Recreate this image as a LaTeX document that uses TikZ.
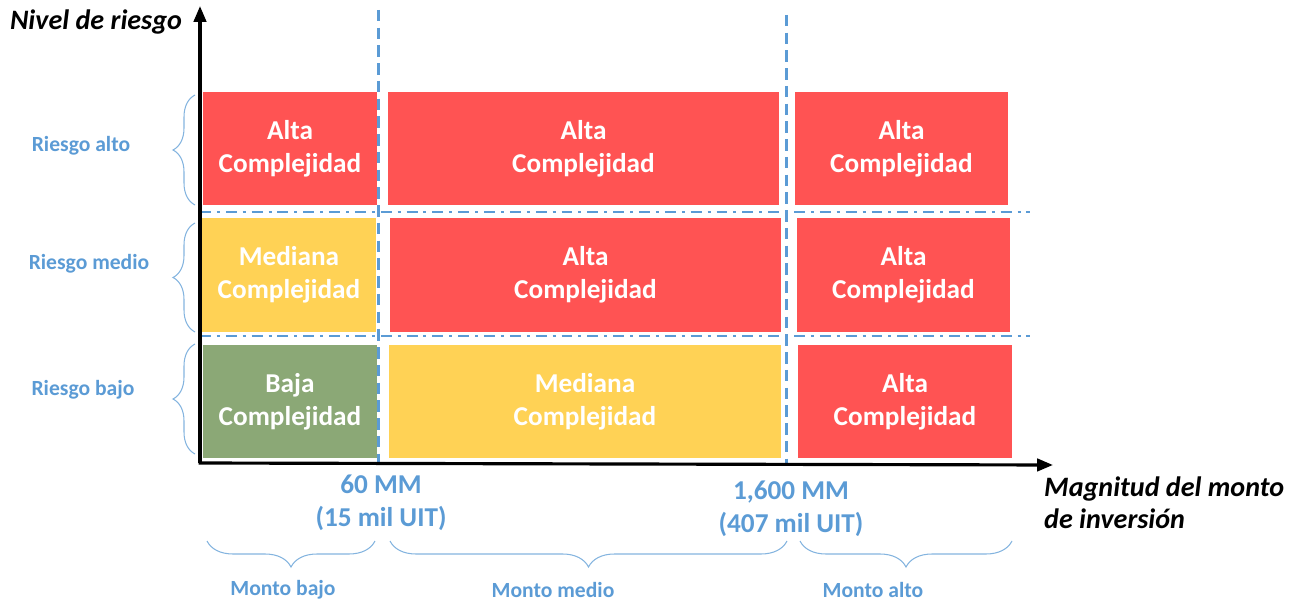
\documentclass[tikz,border=0pt]{standalone}
\usepackage{fontspec}
\setmainfont{Carlito}
\usetikzlibrary{arrows.meta}
\usetikzlibrary{decorations.pathreplacing}
\definecolor{rojo}{HTML}{FF5353}
\definecolor{amarillo}{HTML}{FFD255}
\definecolor{verde}{HTML}{8BA876}
\definecolor{azul}{HTML}{5B9BD5}

\begin{document}
\begin{tikzpicture}[x=0.02cm,y=-0.02cm,
  cell/.style={fill=#1, text=white, align=center, inner sep=0pt, minimum height=2.27cm, font=\fontsize{15.5}{18.7}\selectfont\bfseries},
  colA/.style={minimum width=3.48cm},
  colB/.style={minimum width=7.84cm},
  colC/.style={minimum width=4.28cm},
  tag/.style={text=azul, font=\fontsize{12.3}{14}\selectfont\bfseries},
  limite/.style={text=azul, align=center, font=\fontsize{15.5}{18.5}\selectfont\bfseries},
  titulo/.style={font=\fontsize{16}{18.2}\selectfont\bfseries\itshape},
  llave/.style={draw=azul!75, line width=0.6pt, decorate, decoration={brace, amplitude=#1}},
  corte/.style={draw=azul, line width=1.7pt, dash pattern=on 6.5pt off 3.6pt},
  franja/.style={draw=azul, line width=1.7pt, dash pattern=on 6.2pt off 3.4pt on 1.7pt off 3.4pt},
  eje/.style={draw=black, line width=1.8pt, -{Triangle[length=9pt,width=7pt]}}]

\useasboundingbox (0,0) rectangle (1300,604);

% riesgo alto
\node (altoA) [cell=rojo, colA] at (290,148.5) {Alta\\Complejidad};
\node (altoB) [cell=rojo, colB] at (583.5,148.5) {Alta\\Complejidad};
\node (altoC) [cell=rojo, colC] at (901.5,148.5) {Alta\\Complejidad};

% riesgo medio
\node (medioA) [cell=amarillo, colA] at (289,275) {Mediana\\Complejidad};
\node (medioB) [cell=rojo, colB] at (585.5,275) {Alta\\Complejidad};
\node (medioC) [cell=rojo, colC] at (903.5,275) {Alta\\Complejidad};

% riesgo bajo
\node (bajoA) [cell=verde, colA] at (290,401.5) {Baja\\Complejidad};
\node (bajoB) [cell=amarillo, colB] at (585,401.5) {Mediana\\Complejidad};
\node (bajoC) [cell=rojo, colC] at (905,401.5) {Alta\\Complejidad};

% cortes
\coordinate (c1top) at (378,10);
\coordinate (c1bot) at (378,463);
\coordinate (c2top) at (786,15);
\coordinate (c2bot) at (786,466);
\coordinate (f1izq) at (200,212);
\coordinate (f1der) at (1030,212);
\coordinate (f2izq) at (200,336);
\coordinate (f2der) at (1030,336);
\draw[corte] (c1top) -- (c1bot);
\draw[corte] (c2top) -- (c2bot);
\draw[franja] (f1izq) -- (f1der);
\draw[franja] (f2izq) -- (f2der);

% ejes
\coordinate (origen) at (200,463);
\coordinate (ytop) at (200,6);
\coordinate (xend) at (1053,465);
\draw[eje] (origen) -- (ytop);
\draw[eje] ([xshift=-0.8pt]origen) -- (xend);

\node (ytit) [titulo] at (96,22) {Nivel de riesgo};
\node (xtit) [titulo, anchor=west, align=left] at (1038,503) {Magnitud del monto\\de inversión};

% niveles
\coordinate (la1) at (195,205);
\coordinate (la2) at (195,95);
\coordinate (lm1) at (195,332);
\coordinate (lm2) at (195,223);
\coordinate (lb1) at (195,454);
\coordinate (lb2) at (195,344);
\draw[llave=0.44cm] (la1) -- (la2);
\draw[llave=0.44cm] (lm1) -- (lm2);
\draw[llave=0.44cm] (lb1) -- (lb2);
\node (ralto) [tag] at (81,146) {Riesgo alto};
\node (rmedio) [tag] at (89,264) {Riesgo medio};
\node (rbajo) [tag] at (83,390) {Riesgo bajo};

% limites
\node (lim1) [limite] at (381,503) {60 MM\\(15 mil UIT)};
\node (lim2) [limite] at (791,509) {1,600 MM\\(407 mil UIT)};

% montos
\coordinate (mb1) at (207,541);
\coordinate (mb2) at (375,541);
\coordinate (mm1) at (390,541);
\coordinate (mm2) at (787,541);
\coordinate (ma1) at (800,541);
\coordinate (ma2) at (1012,541);
\draw[llave=0.52cm] (mb2) -- (mb1);
\draw[llave=0.52cm] (mm2) -- (mm1);
\draw[llave=0.52cm] (ma2) -- (ma1);
\node (mbajo) [tag] at (283,590) {Monto bajo};
\node (mmedio) [tag] at (553,590) {Monto medio};
\node (malto) [tag] at (873,590) {Monto alto};

\end{tikzpicture}
\end{document}
